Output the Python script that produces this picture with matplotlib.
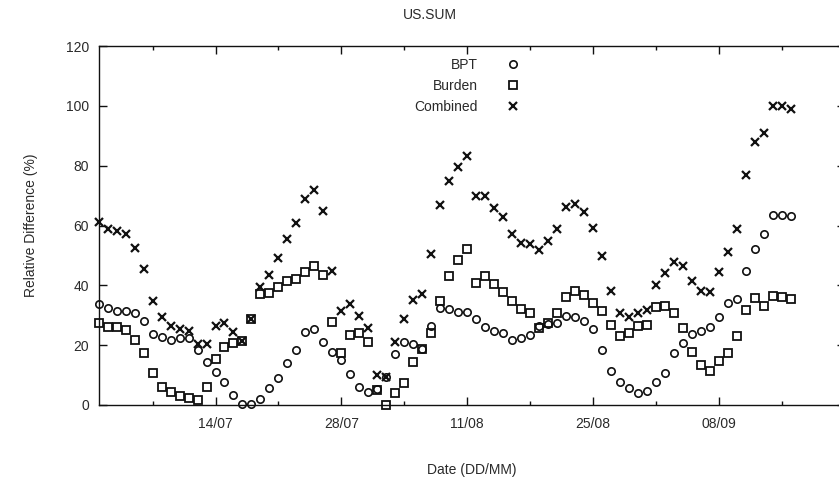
import matplotlib
matplotlib.use("Agg")
import matplotlib.pyplot as plt
import pandas as pd

plt.rcParams['font.family'] = ['Liberation Sans', 'DejaVu Sans']

start_date = '2014-07-01'
n_days = 78

bpt = [33.7, 32.3, 31.5, 31.5, 30.7, 28.2, 23.7, 22.8, 21.7, 22.3,
       22.3, 18.3, 14.3, 10.9, 7.6, 3.4, 0.2, 0.2, 2.1, 5.6,
       8.9, 13.9, 18.4, 24.3, 25.3, 21.0, 17.6, 15.0, 10.4, 6.1,
       4.5, 5.5, 9.5, 17.0, 21.2, 20.4, 18.6, 26.5, 32.3, 32.0,
       31.2, 31.2, 28.7, 26.2, 24.8, 24.2, 21.7, 22.3, 23.4, 26.4,
       27.2, 27.5, 29.9, 29.5, 28.2, 25.3, 18.4, 11.5, 7.6, 5.6,
       4.1, 4.7, 7.6, 10.8, 17.3, 20.6, 23.6, 24.8, 26.2, 29.5,
       34.0, 35.5, 44.9, 52.2, 57.2, 63.5, 63.5, 63.2]

burden = [27.5, 26.2, 26.2, 25.1, 21.7, 17.3, 10.6, 5.9, 4.5, 3.0,
          2.2, 1.7, 5.9, 15.3, 19.4, 20.8, 21.5, 28.8, 37.1, 37.6,
          39.6, 41.5, 42.1, 44.6, 46.5, 43.5, 27.9, 17.3, 23.4, 24.0,
          21.2, 5.0, 0.0, 3.9, 7.5, 14.5, 18.6, 24.1, 34.6, 43.1,
          48.5, 52.1, 40.9, 43.1, 40.5, 37.9, 34.9, 32.0, 30.9, 25.6,
          27.5, 30.7, 36.2, 38.2, 36.8, 34.2, 31.5, 26.8, 23.2, 24.0,
          26.4, 26.8, 32.6, 33.1, 30.9, 25.6, 17.8, 13.4, 11.4, 14.8,
          17.3, 23.2, 31.8, 35.7, 33.1, 36.6, 36.0, 35.5]

combined = [61.3, 58.8, 58.3, 57.1, 52.4, 45.5, 34.6, 29.3, 26.4, 25.3,
            24.8, 20.4, 20.4, 26.4, 27.3, 24.3, 21.5, 28.8, 39.4, 43.5,
            49.1, 55.4, 61.0, 68.8, 71.7, 64.7, 44.9, 31.5, 33.7, 29.8,
            25.9, 10.0, 9.5, 21.0, 28.7, 35.1, 37.1, 50.5, 66.7, 75.0,
            79.4, 83.3, 69.7, 69.7, 65.8, 62.8, 57.2, 54.3, 53.7, 51.8,
            54.9, 58.8, 66.1, 67.2, 64.6, 59.3, 49.8, 38.1, 30.7, 29.3,
            30.7, 31.8, 40.1, 44.0, 47.9, 46.5, 41.6, 38.1, 37.7, 44.6,
            51.3, 58.8, 76.9, 87.9, 90.8, 100.1, 99.8, 98.9]

major_tick_start = '2014-07-14'
major_tick_labels = ['14/07', '28/07', '11/08', '25/08', '08/09']
minor_tick_start = '2014-07-07'
yticks = [0, 20, 40, 60, 80, 100, 120]

dates = pd.date_range(start_date, periods=n_days, freq='D')
x_end = pd.Timestamp(start_date) + pd.Timedelta(days=n_days)

W, H = 839, 487
fig = plt.figure(figsize=(W / 100, H / 100), dpi=100)
left_px, right_px, top_px, bottom_px = 98.6, 845.0, 46.0, 405.0
ax = fig.add_axes([left_px / W, 1 - bottom_px / H,
                   (right_px - left_px) / W, (bottom_px - top_px) / H])

col = '#111111'
ax.plot(dates, bpt, linestyle='none', marker='o', markersize=5.3,
        markerfacecolor='none', markeredgecolor=col, markeredgewidth=1.2, label='BPT', clip_on=False)
ax.plot(dates, burden, linestyle='none', marker='s', markersize=5.6,
        markerfacecolor='none', markeredgecolor=col, markeredgewidth=1.3, label='Burden', clip_on=False)
ax.plot(dates, combined, linestyle='none', marker='x', markersize=5.6,
        markeredgecolor=col, markeredgewidth=1.6, label='Combined', clip_on=False)

ax.set_xlim(pd.Timestamp(start_date), x_end)
ax.set_ylim(0, 120)

major = pd.date_range(major_tick_start, periods=len(major_tick_labels), freq='14D')
minor = pd.date_range(minor_tick_start, periods=12, freq='7D')
ax.set_xticks(major)
ax.set_xticklabels(major_tick_labels)
ax.set_xticks([m for m in minor if m not in set(major)], minor=True)
ax.set_yticks(yticks)
ax.set_yticklabels([str(v) for v in yticks])

tc = '#2a2a2a'
ax.tick_params(axis='both', which='both', direction='in', top=True, right=True,
               labelsize=10, labelcolor=tc, color=col, width=1.0)
ax.tick_params(axis='x', which='major', length=6, pad=8.5)
ax.tick_params(axis='x', which='minor', length=3)
ax.tick_params(axis='y', which='major', length=6, pad=7)
for s in ax.spines.values():
    s.set_linewidth(1.0)
    s.set_color(col)

fig.text(430 / W, 1 - 15 / H, 'US.SUM', ha='center', va='center', fontsize=10, color=tc)
fig.text(472 / W, 1 - 470 / H, 'Date (DD/MM)', ha='center', va='center', fontsize=10, color=tc)
fig.text(31 / W, 1 - 225 / H, 'Relative Difference (%)', ha='center', va='center',
         rotation=90, fontsize=10, color=tc)

leg = ax.legend(loc='upper right', bbox_to_anchor=(519.6 / W, 1 - 58.3 / H),
                bbox_transform=fig.transFigure, frameon=False, markerfirst=False,
                fontsize=10, handlelength=1.0, handletextpad=2.04, labelspacing=0.49,
                borderpad=0, borderaxespad=0, handleheight=0.7)
for t in leg.get_texts():
    t.set_color(tc)

fig.savefig('out.png', dpi=100)
